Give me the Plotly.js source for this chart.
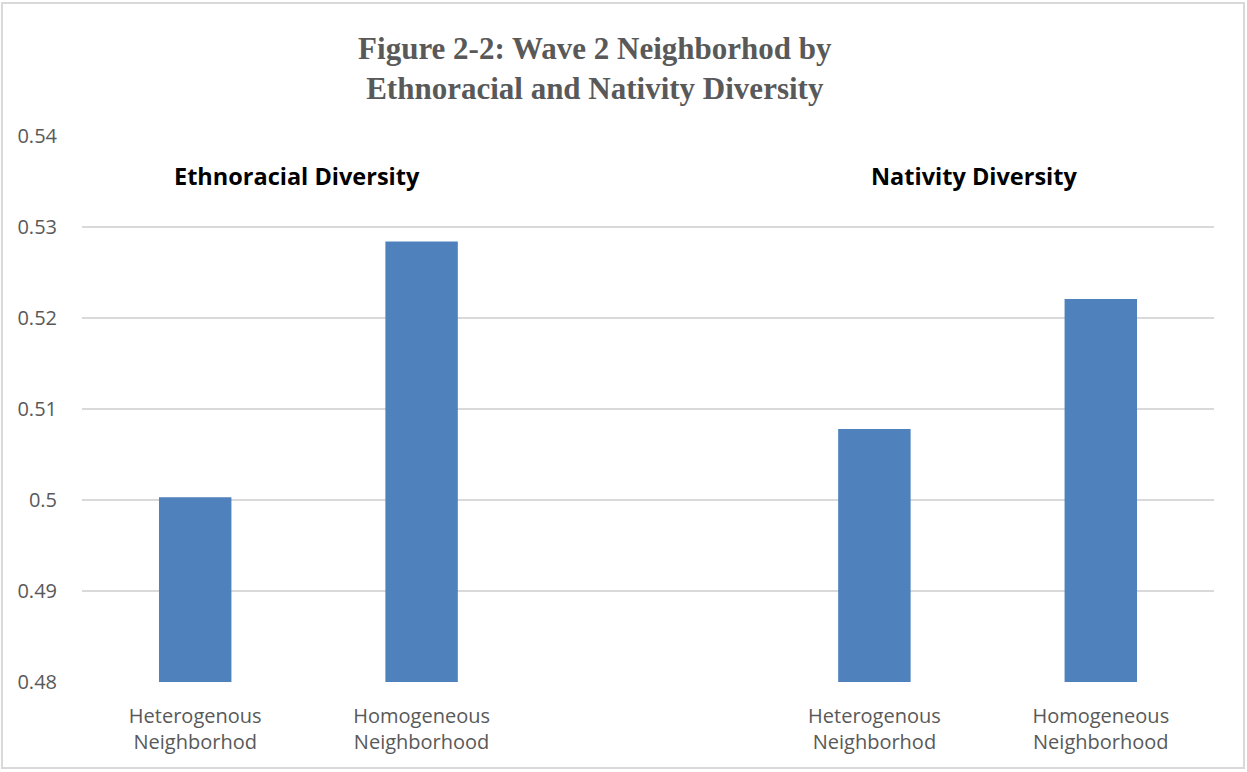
<!DOCTYPE html>
<html>
<head>
<meta charset="utf-8">
<script src="https://cdn.plot.ly/plotly-3.0.1.min.js"></script>
<style>html,body{margin:0;padding:0;background:#fff;}#chart{width:1247px;height:772px;}</style>
</head>
<body>
<div id="chart"></div>
<script>
// ---- data ----
const groups = ['Ethnoracial Diversity', 'Nativity Diversity'];
const neighborhoodLabels = ['Heterogenous<br>Neighborhod', 'Homogeneous<br>Neighborhood'];
const ethnoracialValues = [0.5003, 0.5284];
const nativityValues = [0.5078, 0.5221];
const yTicks = [0.48, 0.49, 0.50, 0.51, 0.52, 0.53, 0.54];
const yTickText = ['0.48', '0.49', '0.5', '0.51', '0.52', '0.53', '0.54'];

// ---- build positions (one empty slot between groups) ----
const seriesByGroup = [ethnoracialValues, nativityValues];
const xs = [], ys = [], tickvals = [], ticktext = [];
seriesByGroup.forEach((vals, gi) => {
  vals.forEach((v, li) => {
    const pos = gi * 3 + li;
    xs.push(pos); ys.push(v);
    tickvals.push(pos); ticktext.push(neighborhoodLabels[li]);
  });
});

const trace = {
  type: 'bar', x: xs, y: ys,
  marker: {color: '#4f81bd'},
  width: 0.32,
  hoverinfo: 'x+y'
};

const annFont = {family: 'Open Sans, sans-serif', size: 23.5, color: '#000'};
const layout = {
  width: 1247, height: 772,
  margin: {l: 82, r: 33, t: 136, b: 90},
  paper_bgcolor: '#fff', plot_bgcolor: '#fff',
  showlegend: false,
  title: {
    text: '<b>Figure 2-2: Wave 2 Neighborhod by<br>Ethnoracial and Nativity Diversity</b>',
    font: {family: 'Liberation Serif, Times New Roman, serif', size: 31, color: '#595959'},
    x: 0.453, xanchor: 'center', xref: 'paper',
    y: 0.9236, yanchor: 'middle', yref: 'container'
  },
  xaxis: {
    range: [-0.5, 4.5], tickvals: tickvals, ticktext: ticktext,
    showgrid: false, zeroline: false, showline: false, ticks: '',
    ticklabelstandoff: 20,
    tickfont: {family: 'Open Sans, sans-serif', size: 20, color: '#595959'}
  },
  yaxis: {
    range: [0.48, 0.54], tickvals: yTicks, ticktext: yTickText,
    showgrid: true, gridcolor: '#d9d9d9', gridwidth: 2,
    zeroline: false, showline: false, ticks: '',
    ticklabelstandoff: 24,
    tickfont: {family: 'Open Sans, sans-serif', size: 20, color: '#595959'}
  },
  annotations: [
    {text: '<b>' + groups[0] + '</b>', x: 0.45, y: 0.5356, xref: 'x', yref: 'y', showarrow: false, font: annFont},
    {text: '<b>' + groups[1] + '</b>', x: 3.44, y: 0.5356, xref: 'x', yref: 'y', showarrow: false, font: annFont}
  ],
  shapes: [
    {type: 'rect', xref: 'paper', yref: 'paper', x0: -0.0707, x1: 1.0265, y0: -0.1575, y1: 1.2436,
     line: {color: '#d9d9d9', width: 2}, fillcolor: 'rgba(0,0,0,0)'}
  ]
};

Plotly.newPlot('chart', [trace], layout, {displayModeBar: false, staticPlot: true});
</script>
</body>
</html>
